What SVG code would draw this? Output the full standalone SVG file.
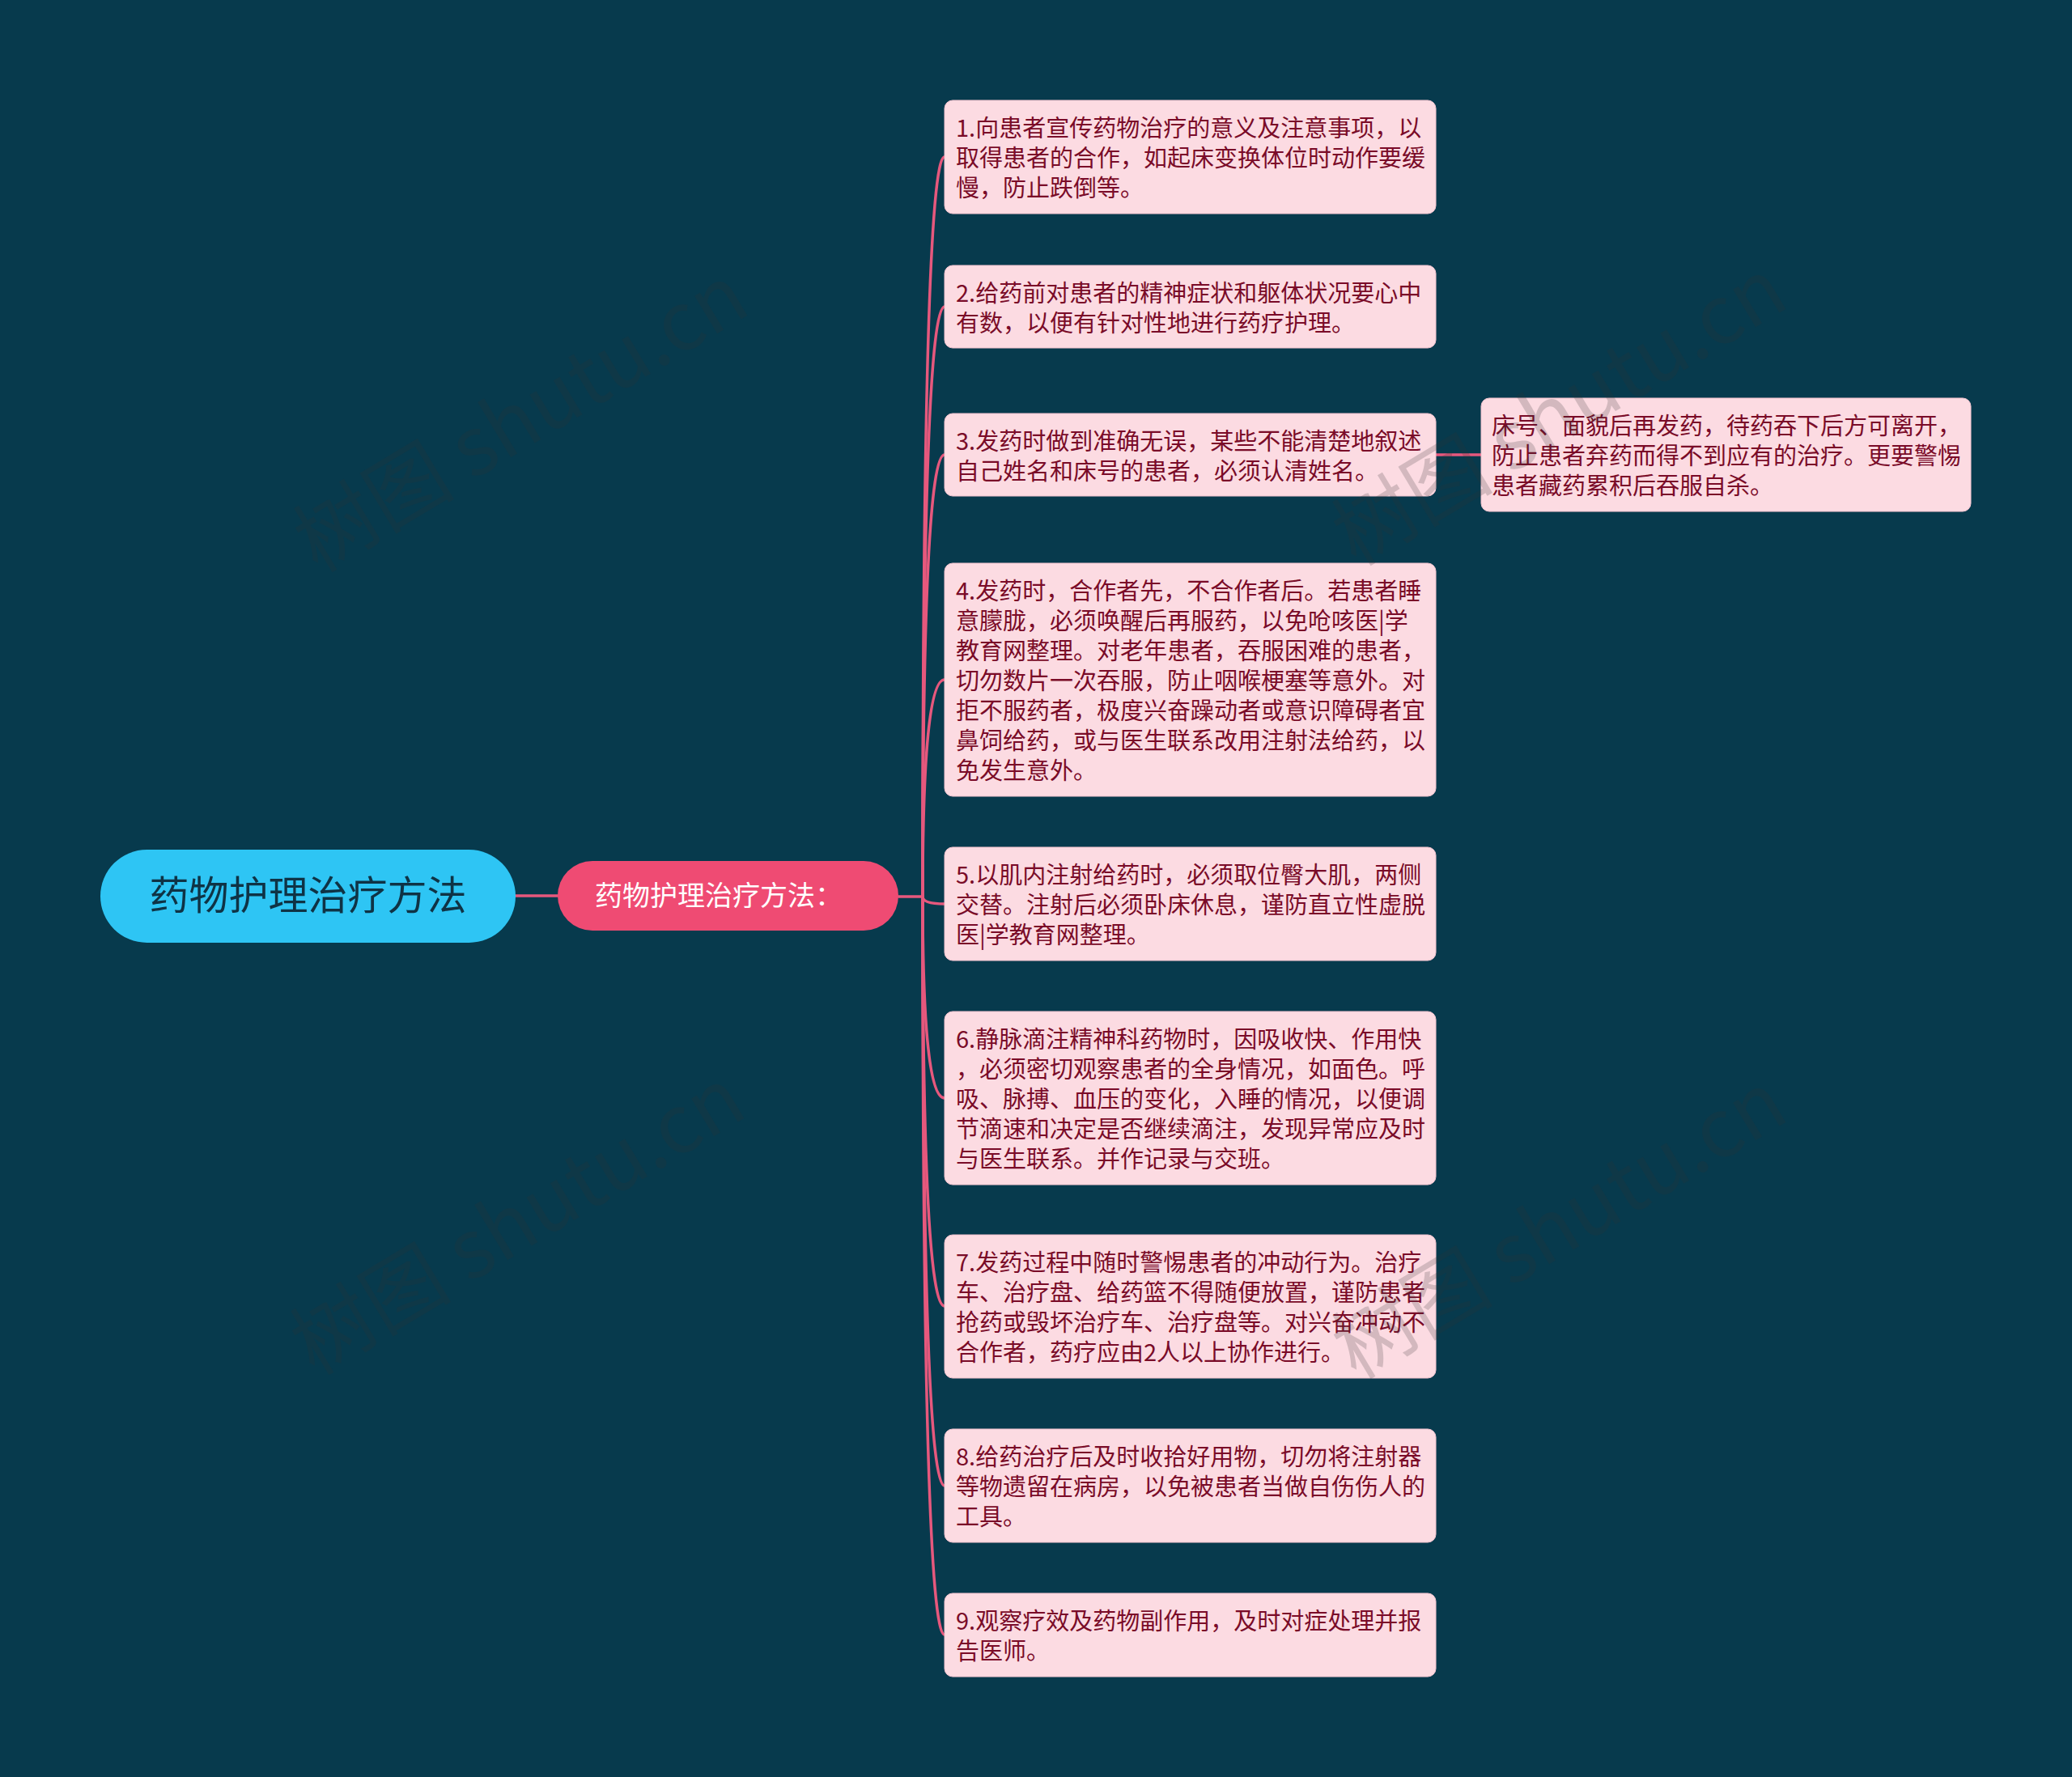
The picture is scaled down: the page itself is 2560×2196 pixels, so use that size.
<svg xmlns="http://www.w3.org/2000/svg" width="2560" height="2196" viewBox="0 0 2560 2196">
<style>
.bg{fill:#073a4d}
.link{fill:none;stroke:#e6587d;stroke-width:3.5;stroke-linecap:round}
.root{fill:#2ec5f4}
.roott{font-family:"Noto Sans CJK SC","Noto Sans",sans-serif;font-size:49px;fill:#0f3345}
.branch{fill:#ef4b73}
.brancht{font-family:"Noto Sans CJK SC","Noto Sans",sans-serif;font-size:34px;fill:#ffffff}
.leaf{fill:#fcdbe2;stroke:#f3c3cf;stroke-width:1}
.leaft{font-family:"Noto Sans CJK SC","Noto Sans",sans-serif;font-size:29px;fill:#7a0b28}
.wm{font-family:"Noto Sans CJK SC","Noto Sans",sans-serif;font-size:100px;fill:#333333;opacity:0.2}
</style>
<rect class="bg" x="0" y="0" width="2560" height="2196"/>

<g id="connectors">
<path class="link" d="M637 1107 L689 1107"/>
<path class="link" d="M1110 1108 L1140 1108"/>
<path class="link" d="M1140 1108 Q1140 194 1167 194"/>
<path class="link" d="M1140 1108 Q1140 379 1167 379"/>
<path class="link" d="M1140 1108 Q1140 562 1167 562"/>
<path class="link" d="M1140 1108 Q1140 840 1167 840"/>
<path class="link" d="M1140 1108 Q1140 1117 1167 1117"/>
<path class="link" d="M1140 1108 Q1140 1357 1167 1357"/>
<path class="link" d="M1140 1108 Q1140 1614 1167 1614"/>
<path class="link" d="M1140 1108 Q1140 1836 1167 1836"/>
<path class="link" d="M1140 1108 Q1140 2020 1167 2020"/>
<path class="link" d="M1773 562 L1830 562"/>
</g>

<g id="root">
<rect class="root" x="124" y="1050" width="513" height="115" rx="57.5"/>
<text class="roott" x="380.5" y="1124" text-anchor="middle">药物护理治疗方法</text>
</g>

<g id="branch">
<rect class="branch" x="689" y="1064" width="421" height="86" rx="43"/>
<text class="brancht" x="735" y="1119">药物护理治疗方法：</text>
</g>

<g id="n1">
<rect class="leaf" x="1167" y="124" width="607" height="140" rx="10"/>
<text class="leaft"><tspan x="1181" y="169">1.向患者宣传药物治疗的意义及注意事项，以</tspan><tspan x="1181" y="206">取得患者的合作，如起床变换体位时动作要缓</tspan><tspan x="1181" y="243">慢，防止跌倒等。</tspan></text>
</g>

<g id="n2">
<rect class="leaf" x="1167" y="328" width="607" height="102" rx="10"/>
<text class="leaft"><tspan x="1181" y="373">2.给药前对患者的精神症状和躯体状况要心中</tspan><tspan x="1181" y="410">有数，以便有针对性地进行药疗护理。</tspan></text>
</g>

<g id="n3">
<rect class="leaf" x="1167" y="511" width="607" height="102" rx="10"/>
<text class="leaft"><tspan x="1181" y="556">3.发药时做到准确无误，某些不能清楚地叙述</tspan><tspan x="1181" y="593">自己姓名和床号的患者，必须认清姓名。</tspan></text>
</g>

<g id="n3a">
<rect class="leaf" x="1830" y="492" width="605" height="140" rx="10"/>
<text class="leaft"><tspan x="1843" y="537">床号、面貌后再发药，待药吞下后方可离开，</tspan><tspan x="1843" y="574">防止患者弃药而得不到应有的治疗。更要警惕</tspan><tspan x="1843" y="611">患者藏药累积后吞服自杀。</tspan></text>
</g>

<g id="n4">
<rect class="leaf" x="1167" y="696" width="607" height="288" rx="10"/>
<text class="leaft"><tspan x="1181" y="741">4.发药时，合作者先，不合作者后。若患者睡</tspan><tspan x="1181" y="778">意朦胧，必须唤醒后再服药，以免呛咳医|学</tspan><tspan x="1181" y="815">教育网整理。对老年患者，吞服困难的患者，</tspan><tspan x="1181" y="852">切勿数片一次吞服，防止咽喉梗塞等意外。对</tspan><tspan x="1181" y="889">拒不服药者，极度兴奋躁动者或意识障碍者宜</tspan><tspan x="1181" y="926">鼻饲给药，或与医生联系改用注射法给药，以</tspan><tspan x="1181" y="963">免发生意外。</tspan></text>
</g>

<g id="n5">
<rect class="leaf" x="1167" y="1047" width="607" height="140" rx="10"/>
<text class="leaft"><tspan x="1181" y="1092">5.以肌内注射给药时，必须取位臀大肌，两侧</tspan><tspan x="1181" y="1129">交替。注射后必须卧床休息，谨防直立性虚脱</tspan><tspan x="1181" y="1166">医|学教育网整理。</tspan></text>
</g>

<g id="n6">
<rect class="leaf" x="1167" y="1250" width="607" height="214" rx="10"/>
<text class="leaft"><tspan x="1181" y="1295">6.静脉滴注精神科药物时，因吸收快、作用快</tspan><tspan x="1181" y="1332">，必须密切观察患者的全身情况，如面色。呼</tspan><tspan x="1181" y="1369">吸、脉搏、血压的变化，入睡的情况，以便调</tspan><tspan x="1181" y="1406">节滴速和决定是否继续滴注，发现异常应及时</tspan><tspan x="1181" y="1443">与医生联系。并作记录与交班。</tspan></text>
</g>

<g id="n7">
<rect class="leaf" x="1167" y="1526" width="607" height="177" rx="10"/>
<text class="leaft"><tspan x="1181" y="1571">7.发药过程中随时警惕患者的冲动行为。治疗</tspan><tspan x="1181" y="1608">车、治疗盘、给药篮不得随便放置，谨防患者</tspan><tspan x="1181" y="1645">抢药或毁坏治疗车、治疗盘等。对兴奋冲动不</tspan><tspan x="1181" y="1682">合作者，药疗应由2人以上协作进行。</tspan></text>
</g>

<g id="n8">
<rect class="leaf" x="1167" y="1766" width="607" height="140" rx="10"/>
<text class="leaft"><tspan x="1181" y="1811">8.给药治疗后及时收拾好用物，切勿将注射器</tspan><tspan x="1181" y="1848">等物遗留在病房，以免被患者当做自伤伤人的</tspan><tspan x="1181" y="1885">工具。</tspan></text>
</g>

<g id="n9">
<rect class="leaf" x="1167" y="1969" width="607" height="103" rx="10"/>
<text class="leaft"><tspan x="1181" y="2014">9.观察疗效及药物副作用，及时对症处理并报</tspan><tspan x="1181" y="2051">告医师。</tspan></text>
</g>

<g id="watermarks">
<text class="wm" x="644" y="552" text-anchor="middle" transform="rotate(-31 644 518)">树图 shutu.cn</text>
<text class="wm" x="1927" y="544" text-anchor="middle" transform="rotate(-31 1927 510)">树图 shutu.cn</text>
<text class="wm" x="640" y="1544" text-anchor="middle" transform="rotate(-31 640 1510)">树图 shutu.cn</text>
<text class="wm" x="1927" y="1549" text-anchor="middle" transform="rotate(-31 1927 1515)">树图 shutu.cn</text>
</g>
</svg>
